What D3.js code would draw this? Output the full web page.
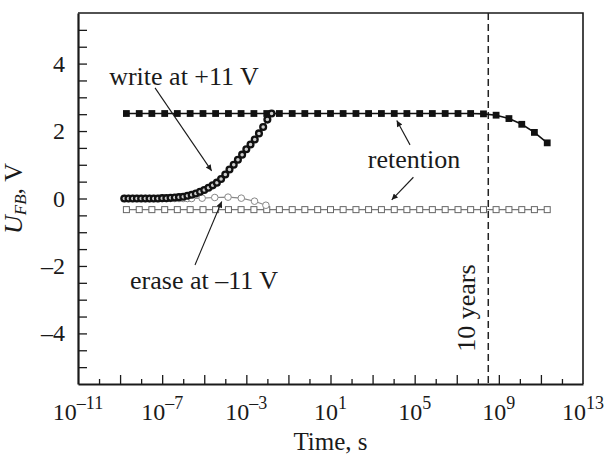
<!DOCTYPE html>
<html>
<head>
<meta charset="utf-8">
<script src="https://cdn.jsdelivr.net/npm/d3@7"></script>
<style>
body { margin: 0; background: #fff; }
text { font-family: "Liberation Serif", "Times New Roman", serif; fill: #1a1a1a; }
</style>
</head>
<body>
<script>
// time is kept as decade exponents (log10 of seconds)
var retentionExp = [-8.70,-8.09,-7.49,-6.88,-6.28,-5.67,-5.06,-4.46,-3.85,-3.25,-2.64,-2.03,
        -1.43,-0.82,-0.22,0.39,1.00,1.60,2.21,2.81,3.42,4.03,4.63,5.24,5.84,6.45,7.06,7.66,
        8.27,8.87,9.48,10.09,10.69,11.30];
var retentionWrite = [2.52,2.52,2.52,2.52,2.52,2.52,2.52,2.52,2.52,2.52,2.52,2.52,
        2.52,2.52,2.52,2.52,2.52,2.52,2.52,2.52,2.52,2.52,2.52,2.52,2.52,2.52,2.52,2.52,
        2.51,2.47,2.37,2.20,1.96,1.65];
var retentionErase = [-0.33,-0.33,-0.33,-0.33,-0.33,-0.33,-0.33,-0.33,-0.33,-0.33,-0.33,-0.33,
        -0.33,-0.33,-0.33,-0.33,-0.33,-0.33,-0.33,-0.33,-0.33,-0.33,-0.33,-0.33,-0.33,-0.33,-0.33,-0.33,
        -0.33,-0.33,-0.33,-0.33,-0.33,-0.33];

var writeExp = [-8.8,-8.6,-8.4,-8.2,-8.0,-7.8,-7.6,-7.4,-7.2,-7.0,-6.8,-6.6,-6.4,-6.2,-6.0,-5.8,
        -5.6,-5.4,-5.2,-5.0,-4.8,-4.6,-4.4,-4.2,-4.0,-3.8,-3.6,-3.4,-3.2,-3.0,-2.8,-2.6,-2.4,-2.2,-2.0,-1.8];
var writeV = [0,0,0,0,0,0,0,0,0,0.01,0.01,0.02,0.03,0.04,0.05,0.08,
        0.11,0.15,0.20,0.25,0.32,0.39,0.47,0.58,0.71,0.86,1.00,1.15,1.30,1.46,1.60,1.75,1.93,2.12,2.34,2.52];

var eraseExp = [-8.8,-8.6,-8.4,-8.2,-8.0,-7.8,-7.6,-7.4,-7.2,-7.0,-6.8,-6.6,-6.4,-6.2,-6.0,-5.8,-5.6,
        -5.1,-4.5,-3.87,-3.24,-2.61,-2.07];
var eraseV = [0,0,0,0,0,0,0,0,0,0,0,0,0,0,0,0,0,
        0.01,0.03,0.04,0.01,-0.08,-0.20];

var xLabelExp = [-11,-7,-3,1,5,9,13];
var yTickLabels = [-4,-2,0,2,4];
var tenYears = 3.15e8;   // s

var width = 608, height = 456;
var margin = {top: 13, right: 25, bottom: 72, left: 78};

var svg = d3.select("body").append("svg")
        .attr("width", width)
        .attr("height", height);

var x = d3.scaleLog().domain([1e-11, 1e13]).range([margin.left, width - margin.right]);
var y = d3.scaleLinear().domain([-5.5, 5.5]).range([height - margin.bottom, margin.top]);

function pts(exps, vals) {
    return exps.map(function(e, i) { return [Math.pow(10, e), vals[i]]; });
}
function dash(v) { return (v < 0 ? "\u2013" : "") + Math.abs(v); }

// arrow head
svg.append("defs").append("marker")
        .attr("id", "ah")
        .attr("viewBox", "0 0 10 10")
        .attr("refX", 10).attr("refY", 5)
        .attr("markerWidth", 9).attr("markerHeight", 6)
        .attr("markerUnits", "userSpaceOnUse")
        .attr("orient", "auto")
    .append("path")
        .attr("d", "M0,0L10,5L0,10Z")
        .attr("fill", "#1a1a1a");

// x axis, ticks point inward, long on odd decades
var decades = d3.range(-10, 13).map(function(e) { return Math.pow(10, e); });
var gx = svg.append("g")
        .attr("transform", "translate(0," + y.range()[0] + ")")
        .call(d3.axisBottom(x).tickValues(decades).tickFormat("").tickSizeOuter(0));
gx.selectAll(".tick line")
        .attr("stroke", "#1a1a1a")
        .attr("stroke-width", 1.3)
        .attr("y2", function(d) { return Math.abs(Math.round(Math.log10(d))) % 2 === 1 ? -9 : -5; });
gx.select(".domain").attr("stroke", "#1a1a1a").attr("stroke-width", 2.2);

var xl = svg.append("g").selectAll("text")
        .data(xLabelExp)
        .enter().append("text")
                .attr("x", function(d) { return x(Math.pow(10, d)); })
                .attr("y", 420)
                .attr("text-anchor", "middle")
                .style("font-size", "24px");
xl.append("tspan").text("10");
xl.append("tspan").attr("dy", -11).style("font-size", "18px").text(function(d) { return dash(d); });

// y axis
var gy = svg.append("g")
        .attr("transform", "translate(" + x.range()[0] + ",0)")
        .call(d3.axisLeft(y).tickValues(d3.range(-5, 5.01, 0.5)).tickFormat("").tickSize(-9).tickSizeOuter(0));
gy.selectAll(".tick line").attr("stroke", "#1a1a1a").attr("stroke-width", 1.3);
gy.select(".domain").attr("stroke", "#1a1a1a").attr("stroke-width", 2.2);

svg.append("g").selectAll("text")
        .data(yTickLabels)
        .enter().append("text")
                .attr("x", 65)
                .attr("y", function(d) { return y(d) + 8; })
                .attr("text-anchor", "end")
                .style("font-size", "24px")
                .text(function(d) { return dash(d); });

// top and right frame
svg.append("path")
        .attr("d", "M" + x.range()[0] + "," + y.range()[1] + "H" + x.range()[1] + "V" + y.range()[0])
        .attr("fill", "none")
        .attr("stroke", "#1a1a1a")
        .attr("stroke-width", 1.6);

// 10 years line
svg.append("line")
        .attr("x1", x(tenYears)).attr("x2", x(tenYears))
        .attr("y1", y.range()[1]).attr("y2", y.range()[0])
        .attr("stroke", "#222")
        .attr("stroke-width", 1.5)
        .attr("stroke-dasharray", "7,4");

var line = d3.line()
        .x(function(d) { return x(d[0]); })
        .y(function(d) { return y(d[1]); });

// erase retention: open squares
var re = pts(retentionExp, retentionErase);
svg.append("path").datum(re).attr("d", line)
        .attr("fill", "none").attr("stroke", "#777").attr("stroke-width", 1.1);
svg.selectAll("rect.re").data(re).enter().append("rect")
        .attr("class", "re")
        .attr("x", function(d) { return x(d[0]) - 3; })
        .attr("y", function(d) { return y(d[1]) - 3; })
        .attr("width", 6).attr("height", 6)
        .attr("fill", "#fff").attr("stroke", "#666").attr("stroke-width", 1);

// erase: open circles
var er = pts(eraseExp, eraseV);
svg.append("path").datum(er).attr("d", line)
        .attr("fill", "none").attr("stroke", "#888").attr("stroke-width", 1.1);
svg.selectAll("circle.er").data(er).enter().append("circle")
        .attr("class", "er")
        .attr("cx", function(d) { return x(d[0]); })
        .attr("cy", function(d) { return y(d[1]); })
        .attr("r", 3.3)
        .attr("fill", "#fff").attr("stroke", "#888").attr("stroke-width", 1);

// write retention: filled squares
var rw = pts(retentionExp, retentionWrite);
svg.append("path").datum(rw).attr("d", line)
        .attr("fill", "none").attr("stroke", "#111").attr("stroke-width", 1.6);
svg.selectAll("rect.rw").data(rw).enter().append("rect")
        .attr("class", "rw")
        .attr("x", function(d) { return x(d[0]) - 3.4; })
        .attr("y", function(d) { return y(d[1]) - 3.4; })
        .attr("width", 6.8).attr("height", 6.8)
        .attr("fill", "#111");

// write: thick ringed circles
var wr = pts(writeExp, writeV);
svg.append("path").datum(wr).attr("d", line)
        .attr("fill", "none").attr("stroke", "#222").attr("stroke-width", 1.2);
svg.selectAll("circle.wr").data(wr).enter().append("circle")
        .attr("class", "wr")
        .attr("cx", function(d) { return x(d[0]); })
        .attr("cy", function(d) { return y(d[1]); })
        .attr("r", 2.9)
        .attr("fill", "#ccc").attr("stroke", "#111").attr("stroke-width", 2.3);

// annotations: [from exp, from V, to exp, to V]
var arrows = [[-7.34, 3.28, -4.65, 0.82],
              [4.78, 1.59, 4.15, 2.31],
              [4.94, 0.63, 3.91, -0.04],
              [-5.44, -1.97, -4.17, -0.09]];
svg.append("g").selectAll("line")
        .data(arrows)
        .enter().append("line")
                .attr("x1", function(d) { return x(Math.pow(10, d[0])); })
                .attr("y1", function(d) { return y(d[1]); })
                .attr("x2", function(d) { return x(Math.pow(10, d[2])); })
                .attr("y2", function(d) { return y(d[3]); })
                .attr("stroke", "#1a1a1a")
                .attr("stroke-width", 1.1)
                .attr("marker-end", "url(#ah)");

var notes = [["write at +11 V", -5.96, 3.36],
             ["retention", 4.97, 0.90],
             ["erase at \u201311 V", -5.01, -2.68]];
svg.append("g").selectAll("text")
        .data(notes)
        .enter().append("text")
                .attr("x", function(d) { return x(Math.pow(10, d[1])); })
                .attr("y", function(d) { return y(d[2]); })
                .attr("text-anchor", "middle")
                .style("font-size", "26px")
                .text(function(d) { return d[0]; });

svg.append("text")
        .attr("transform", "translate(" + (x(tenYears) - 13) + "," + y(-3.25) + ") rotate(-90)")
        .attr("text-anchor", "middle")
        .style("font-size", "26px")
        .text("10 years");

// axis titles
svg.append("text")
        .attr("x", (x.range()[0] + x.range()[1]) / 2)
        .attr("y", 450)
        .attr("text-anchor", "middle")
        .style("font-size", "25px")
        .text("Time, s");

var yt = svg.append("text")
        .attr("transform", "translate(22," + y(0) + ") rotate(-90)")
        .attr("text-anchor", "middle")
        .style("font-size", "26px");
yt.append("tspan").style("font-style", "italic").text("U");
yt.append("tspan").style("font-style", "italic").style("font-size", "17px").attr("dy", 4).text("FB");
yt.append("tspan").attr("dy", -4).text(", V");
</script>
</body>
</html>
